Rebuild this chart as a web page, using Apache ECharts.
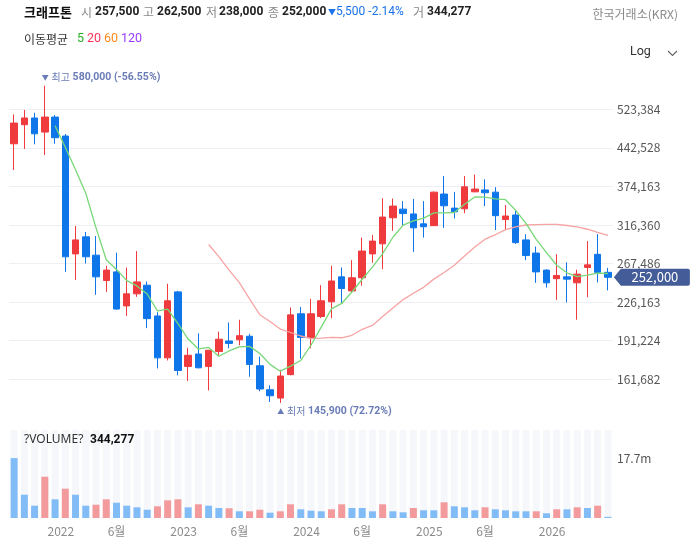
<!DOCTYPE html>
<html><head><meta charset="utf-8">
<script src="https://cdn.jsdelivr.net/npm/echarts@6/dist/echarts.min.js"></script>
<style>html,body{margin:0;padding:0;background:#fff}#c{width:696px;height:544px}</style>
</head><body><div id="c"></div>
<script>
// ---- data (monthly candles, Aug 2021 .. Jun 2026) ----
const months = ['2021-08','2021-09','2021-10','2021-11','2021-12',
 '2022-01','2022-02','2022-03','2022-04','2022-05','2022-06','2022-07','2022-08','2022-09','2022-10','2022-11','2022-12',
 '2023-01','2023-02','2023-03','2023-04','2023-05','2023-06','2023-07','2023-08','2023-09','2023-10','2023-11','2023-12',
 '2024-01','2024-02','2024-03','2024-04','2024-05','2024-06','2024-07','2024-08','2024-09','2024-10','2024-11','2024-12',
 '2025-01','2025-02','2025-03','2025-04','2025-05','2025-06','2025-07','2025-08','2025-09','2025-10','2025-11','2025-12',
 '2026-01','2026-02','2026-03','2026-04','2026-05','2026-06'];
const opens = [450500,489500,504000,474000,506000,466000,279000,300500,277500,248500,258000,222500,234500,243500,213000,177500,236500,171000,180500,171000,182500,191000,192000,195000,171500,154500,149000,165000,215000,194000,212500,226500,252500,237500,251500,279000,291500,326500,339000,332000,318000,315500,362000,340500,339500,365500,368500,365000,324000,330500,296500,280000,260000,250500,252500,246000,263000,278500,257500];
const closes = [493000,504000,470500,506000,462500,275500,296500,275500,252500,260000,219500,234500,247000,210500,177500,227500,168000,179500,170000,183500,192500,189000,195500,172500,155000,150500,164000,214000,194000,215000,227500,248000,240000,251500,282500,295000,327500,343500,332500,312500,314000,365000,344000,335000,373500,370000,364000,329500,329000,293000,277000,258000,246000,254000,250000,255500,266000,257500,252000];
const lows = [402000,440500,449500,429000,450500,258000,249000,267500,233500,236500,219000,213000,231500,202000,169500,175500,164500,160500,169500,154000,179500,185000,187500,163500,153500,146500,145900,164500,177000,185000,211000,211000,225000,236000,243000,268500,261000,308500,315000,281500,299500,315000,312500,325500,333000,365000,343500,309500,309500,291500,271500,246000,241000,228500,226000,209500,231000,246500,238000];
const highs = [512000,522000,515500,580000,510500,470000,315000,307000,301500,265000,280500,263000,282500,247500,216500,245000,237500,185500,197500,183500,199000,207000,209500,197000,178500,157500,168500,221000,221500,229500,243500,265000,263000,271500,299500,303000,355500,355000,351000,354500,351000,366000,391500,365500,391500,394000,386000,373000,345000,337500,304000,288000,261000,278500,269000,260500,295000,304000,262500];
const volumes = [17700000,6880000,3640000,12200000,5520000,8660000,6880000,3640000,3930000,5520000,4520000,3640000,3160000,2450000,3460000,5230000,5520000,3160000,4050000,3640000,2960000,2870000,1980000,1980000,2450000,1570000,1980000,4050000,2570000,2160000,1980000,2570000,4050000,2960000,2960000,1980000,4050000,1980000,1680000,2960000,2280000,2280000,4640000,3460000,3160000,2280000,3160000,2570000,2280000,1980000,1980000,1980000,1390000,2570000,2570000,3160000,2960000,3640000,344277];
const volumeDirection = [-1,-1,-1,1,-1,1,-1,-1,1,1, -1,-1,-1,-1,1,1,1,-1,1,-1, -1,1,-1,1,1,-1,1,1,-1,-1, -1,1,1,-1,-1,-1,1,-1,-1,1, -1,-1,1,-1,-1,-1,1,-1,-1,-1, -1,1,-1,1,-1,1,-1,1,-1];
// moving averages as drawn (MA5 starts at the 5th candle, MA20 at the 20th)
const ma5 = [487200,443700,402200,363200,312500,272000,260800,248400,242700,234300,217800,219400,206100,192600,184500,185700,178700,182900,186100,186600,180900,172500,167500,171200,175500,187500,202900,219700,224900,236400,249900,263400,279300,300000,316200,322200,326000,333500,333600,334100,346300,357500,357300,354400,353200,337100,318500,297300,280600,265600,257000,252700,254300,256600,256200];
const ma20 = [290700,275700,259900,246200,229500,214100,207900,201200,198200,195200,193000,193400,194100,193700,195800,201000,204400,212400,220600,228700,235100,241200,250000,257400,265600,276500,287500,297500,303200,310000,313900,316400,316900,317200,317300,315700,313700,310600,306300,302300];
const priceTicks = [161682,191224,226163,267486,316360,374163,442528,523384];
const volumeTicks = [17700000];

// ---- helpers ----
const RED = '#ef3a3e', BLUE = '#0f76ea';
const VRED = '#f29a9c', VBLUE = '#82bcf7';
const FONT = "'Noto Sans CJK KR','Noto Sans',sans-serif";
const NUMFONT = "Roboto,'Noto Sans',sans-serif";
const n = months.length;
const logStep = Math.log(priceTicks[priceTicks.length-1] / priceTicks[0]) / (priceTicks.length - 1);
const toU = p => Math.log(p / priceTicks[0]) / logStep;
const fmt = v => Math.round(v).toLocaleString('en-US');

const candleData = months.map((m, i) => [toU(opens[i]), toU(closes[i]), toU(lows[i]), toU(highs[i])]);
const pad = (arr) => Array(n - arr.length).fill(null).concat(arr.map(toU));
const ma5Data = pad(ma5), ma20Data = pad(ma20);

const last = n - 1;
let iMax = 0, iMin = 0;
highs.forEach((v, i) => { if (v > highs[iMax]) iMax = i; });
lows.forEach((v, i) => { if (v < lows[iMin]) iMin = i; });
const pctMax = ((closes[last] - highs[iMax]) / highs[iMax] * 100).toFixed(2);
const pctMin = ((closes[last] - lows[iMin]) / lows[iMin] * 100).toFixed(2);
const chg = closes[last] - closes[last - 1];
const chgPct = (chg / closes[last - 1] * 100).toFixed(2);

const mainTop = 379.3 - 8 * 38.57, mainH = 9 * 38.57;

const txt = (x, y, text, fill, size, weight, align, family) => ({
  type: 'text', x: x, y: y, z: 100, silent: true,
  style: { text: text, fill: fill, fontSize: size, fontWeight: weight || 'normal', fontFamily: family || FONT,
           align: align || 'left', verticalAlign: 'middle' }
});

const graphics = [
  txt(24, 12, '크래프톤', '#111', 13, 'bold'),
  txt(81, 12, '시', '#888', 12), txt(95, 12, fmt(opens[last]), '#222', 12, 'bold', 'left', NUMFONT),
  txt(143, 12, '고', '#888', 12), txt(157, 12, fmt(highs[last]), '#222', 12, 'bold', 'left', NUMFONT),
  txt(206, 12, '저', '#888', 12), txt(219, 12, fmt(lows[last]), '#222', 12, 'bold', 'left', NUMFONT),
  txt(268, 12, '종', '#888', 12), txt(282, 12, fmt(closes[last]), '#222', 12, 'bold', 'left', NUMFONT),
  txt(328, 12, chg < 0 ? '▼' : '▲', '#1a73e8', 8),
  txt(336, 12, fmt(Math.abs(chg)) + ' ' + chgPct + '%', '#1a73e8', 12, 'normal', 'left', NUMFONT),
  txt(413, 12, '거', '#888', 12), txt(427, 12, fmt(volumes[last]), '#222', 12, 'bold', 'left', NUMFONT),
  txt(678, 14, '한국거래소(KRX)', '#8a8a8a', 12, 'normal', 'right'),
  txt(24, 39, '이동평균', '#333', 12),
  txt(77, 39, '5', '#22b022', 12.5, 'normal', 'left', NUMFONT), txt(87, 39, '20', '#ff3358', 12.5, 'normal', 'left', NUMFONT),
  txt(104, 39, '60', '#ff8a1c', 12.5, 'normal', 'left', NUMFONT), txt(121, 39, '120', '#9a3cff', 12.5, 'normal', 'left', NUMFONT),
  txt(630, 52, 'Log', '#333', 12.5, 'normal', 'left', NUMFONT),
  { type: 'polyline', z: 100, silent: true, shape: { points: [[668, 51], [672.5, 55.5], [677, 51]] },
    style: { stroke: '#666', lineWidth: 1.2, fill: null } },
  txt(24, 440, '?VOLUME?', '#333', 12, 'normal', 'left', "'Noto Sans',sans-serif"),
  txt(90, 440, fmt(volumes[last]), '#111', 12, 'bold', 'left', NUMFONT)
];

const labelRich = {
  a: { fontSize: 7, color: '#6a7cb6' },
  b: { fontSize: 10, color: '#6a7cb6', fontFamily: FONT },
  c: { fontSize: 10.5, color: '#6a7cb6', fontWeight: 'bold', fontFamily: NUMFONT }
};

const chart = echarts.init(document.getElementById('c'), null, { renderer: 'canvas' });
chart.setOption({
  animation: false,
  textStyle: { fontFamily: FONT },
  graphic: graphics,
  grid: [
    { left: 9, right: 83, top: mainTop, height: mainH },
    { left: 9, right: 83, top: 430, height: 88 }
  ],
  xAxis: [
    { type: 'category', data: months, gridIndex: 0, boundaryGap: true, show: false },
    { type: 'category', data: months, gridIndex: 1, boundaryGap: true,
      axisLine: { show: false }, axisTick: { show: false },
      axisLabel: {
        interval: 0, margin: 7, color: '#8a8a8a', fontSize: 12, fontFamily: FONT,
        formatter: (v, idx) => {
          if (idx >= last) return '';
          const [y, m] = v.split('-');
          if (m === '01') return '{y|' + y + '}';
          if (m === '06') return '{m|6월}';
          return '';
        },
        rich: { y: { color: '#8a8a8a', fontSize: 12, fontFamily: FONT, padding: [0, 9, 0, 0] },
                m: { color: '#8a8a8a', fontSize: 12, fontFamily: FONT } }
      } }
  ],
  yAxis: [
    { type: 'value', gridIndex: 0, position: 'right', min: -1, max: 8, interval: 1,
      axisLine: { show: false }, axisTick: { show: false },
      splitLine: { show: true, showMinLine: false, showMaxLine: false, lineStyle: { color: '#eeeff2', width: 1 } },
      axisLabel: { margin: 4, color: '#555', fontSize: 12, fontFamily: FONT, showMinLabel: false, showMaxLabel: false,
        formatter: v => { const k = Math.round(v); return (Math.abs(v - k) < 1e-6 && k >= 0 && k < priceTicks.length) ? fmt(priceTicks[k]) : ''; } } },
    { type: 'value', gridIndex: 1, position: 'right', min: 0, max: 26000000, interval: volumeTicks[0],
      axisLine: { show: false }, axisTick: { show: false }, splitLine: { show: false },
      axisLabel: { margin: 4, color: '#555', fontSize: 12, fontFamily: FONT, showMinLabel: false, showMaxLabel: false,
        formatter: v => (v > 0 && v < 26000000) ? (v / 1e6).toFixed(1) + 'm' : '' } }
  ],
  series: [
    { type: 'candlestick', xAxisIndex: 0, yAxisIndex: 0, data: candleData, barWidth: 7, z: 2,
      itemStyle: { color: RED, color0: BLUE, borderColor: RED, borderColor0: BLUE, borderWidth: 1 },
      markPoint: {
        silent: true, animation: false,
        data: [
          { coord: [months[iMax], toU(highs[iMax])], symbol: 'circle', symbolSize: 1, itemStyle: { color: 'rgba(0,0,0,0)' },
            label: { show: true, position: [-2.5, -7.5], align: 'left', verticalAlign: 'middle',
              formatter: '{a|▼} {b|최고} {c|' + fmt(highs[iMax]) + ' (' + pctMax + '%)}', rich: labelRich } },
          { coord: [months[iMin], toU(lows[iMin])], symbol: 'circle', symbolSize: 1, itemStyle: { color: 'rgba(0,0,0,0)' },
            label: { show: true, position: [-2.5, 8.5], align: 'left', verticalAlign: 'middle',
              formatter: '{a|▲} {b|최저} {c|' + fmt(lows[iMin]) + ' (' + pctMin + '%)}', rich: labelRich } },
          { coord: [months[last], toU(closes[last])],
            symbol: 'path://M0,8.5 L7,0 L74,0 Q76,0 76,2 L76,15 Q76,17 74,17 L7,17 Z',
            symbolSize: [76, 17], symbolOffset: [44, 0], symbolKeepAspect: false,
            itemStyle: { color: '#445c98' },
            label: { show: true, position: 'inside', offset: [3, 0], color: '#fff', fontSize: 13, fontFamily: FONT,
              formatter: fmt(closes[last]) } }
        ]
      } },
    { type: 'line', xAxisIndex: 0, yAxisIndex: 0, data: ma20Data, showSymbol: false, z: 3,
      lineStyle: { color: '#f8a3a3', width: 1.3 }, connectNulls: false },
    { type: 'line', xAxisIndex: 0, yAxisIndex: 0, data: ma5Data, showSymbol: false, z: 3,
      lineStyle: { color: '#78d878', width: 1.3 }, connectNulls: false },
    { type: 'bar', xAxisIndex: 1, yAxisIndex: 1, barWidth: 7,
      showBackground: true, backgroundStyle: { color: '#f5f7fb' },
      data: volumes.map((v, i) => ({ value: v, itemStyle: { color: volumeDirection[i] > 0 ? VRED : VBLUE } })) }
  ]
});
</script></body></html>
